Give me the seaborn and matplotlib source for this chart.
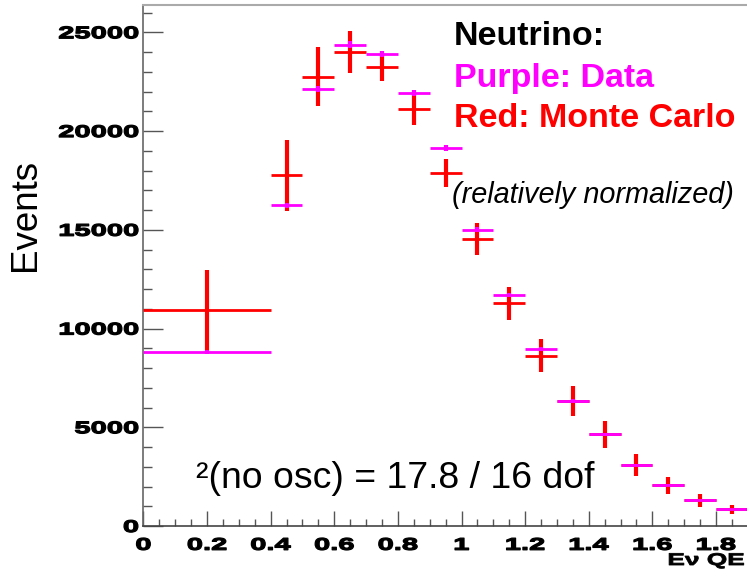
import numpy as np
import matplotlib
matplotlib.use("Agg")
import matplotlib.pyplot as plt
import seaborn as sns
from matplotlib.ticker import MultipleLocator, FixedLocator
from matplotlib.patheffects import AbstractPathEffect
from matplotlib.transforms import Affine2D

# ---------------- data ----------------
bin_centers = [0.2, 0.45, 0.55, 0.65, 0.75, 0.85, 0.95, 1.05, 1.15, 1.25, 1.35, 1.45, 1.55, 1.65, 1.75, 1.85]
bin_halfwidths = [0.2, 0.05, 0.05, 0.05, 0.05, 0.05, 0.05, 0.05, 0.05, 0.05, 0.05, 0.05, 0.05, 0.05, 0.05, 0.05]
mc_values = [10950, 17750, 22750, 24010, 23250, 21110, 17870, 14540, 11280, 8630, 6330, 4645, 3105, 2060, 1300, 846]
mc_errors = [2030, 1800, 1500, 1080, 700, 780, 720, 795, 845, 830, 760, 685, 560, 440, 320, 230]
data_values = [8830, 16245, 22150, 24380, 23880, 21920, 19150, 15010, 11690, 8950, 6330, 4645, 3105, 2060, 1300, 846]
data_errors = [95, 127, 149, 156, 155, 148, 138, 123, 108, 95, 80, 68, 56, 45, 36, 29]
x_tick_values = [0, 0.2, 0.4, 0.6, 0.8, 1.0, 1.2, 1.4, 1.6, 1.8]
x_tick_labels = ["0", "0.2", "0.4", "0.6", "0.8", "1", "1.2", "1.4", "1.6", "1.8"]
y_tick_values = [0, 5000, 10000, 15000, 20000, 25000]
y_tick_labels = ["0", "5000", "10000", "15000", "20000", "25000"]

RED = "#ff0000"
MAGENTA = "#ff00ff"

W, H = 747, 579
sns.set_theme(style="ticks")
plt.rcParams["font.family"] = ["Liberation Sans", "DejaVu Sans"]


class HStretch(AbstractPathEffect):
    """Stretch text glyphs horizontally (ROOT-like wide bold labels)."""
    def __init__(self, sx, anchor="left", stroke=0.0):
        super().__init__()
        self.sx = sx
        self.anchor = anchor
        self.stroke = stroke

    def draw_path(self, renderer, gc, tpath, affine, rgbFace=None):
        ext = tpath.get_extents()
        if self.anchor == "right":
            x0 = ext.x1
        elif self.anchor == "center":
            x0 = 0.5 * (ext.x0 + ext.x1)
        else:
            x0 = ext.x0
        t = Affine2D().translate(-x0, 0).scale(self.sx, 1).translate(x0, 0)
        gc0 = renderer.new_gc()
        gc0.copy_properties(gc)
        if self.stroke > 0:
            gc0.set_linewidth(self.stroke)
            if rgbFace is not None:
                gc0.set_foreground(rgbFace)
        renderer.draw_path(gc0, tpath, t + affine, rgbFace)
        gc0.restore()


fig = plt.figure(figsize=(W / 100, H / 100), dpi=100)
fig.patch.set_facecolor("white")

ax_left, ax_right = 143.4, 747
ax_top, ax_bottom = 5, 526
ax = fig.add_axes([ax_left / W, 1 - ax_bottom / H, (ax_right - ax_left) / W, (ax_bottom - ax_top) / H])
ax.set_facecolor("white")

xc = np.array(bin_centers)
hw = np.array(bin_halfwidths)
mc = np.array(mc_values)
mce = np.array(mc_errors)
dv = np.array(data_values)
de = np.array(data_errors)

# Monte Carlo crosses (red)
ax.hlines(mc, xc - hw, xc + hw, colors=RED, linewidth=2.0, zorder=3)
ax.vlines(xc, mc - mce, mc + mce, colors=RED, linewidth=3.0, zorder=3)
# Data (magenta)
ax.hlines(dv, xc - hw, xc + hw, colors=MAGENTA, linewidth=2.0, zorder=4)
ax.vlines(xc, dv - de, dv + de, colors=MAGENTA, linewidth=3.0, zorder=4)

ax.set_xlim(0, (ax_right - ax_left) / 318.1)
ax.set_ylim(0, (ax_bottom - ax_top) / 98.74 * 5000)

ax.xaxis.set_major_locator(FixedLocator(x_tick_values))
ax.set_xticklabels(x_tick_labels)
ax.xaxis.set_minor_locator(MultipleLocator(0.05))
ax.yaxis.set_major_locator(FixedLocator(y_tick_values))
ax.set_yticklabels(y_tick_labels)
ax.yaxis.set_minor_locator(MultipleLocator(1000))

tick_col = "#555555"
ax.tick_params(axis="y", which="major", direction="in", length=14.4, width=1.0, color=tick_col,
               pad=3.5, labelsize=12.2, labelcolor="black")
ax.tick_params(axis="y", which="minor", direction="in", length=6.5, width=1.0, color=tick_col)
ax.tick_params(axis="x", which="major", direction="in", length=10.8, width=1.0, color=tick_col,
               pad=8.5, labelsize=12.2, labelcolor="black")
ax.tick_params(axis="x", which="minor", direction="in", length=5.0, width=1.0, color=tick_col)

for lab in ax.get_yticklabels():
    lab.set_fontweight("bold")
    lab.set_path_effects([HStretch(1.72, "right", stroke=0.9)])
for lab in ax.get_xticklabels():
    lab.set_fontweight("bold")
    lab.set_path_effects([HStretch(1.72, "center", stroke=0.9)])

ax.spines["right"].set_visible(False)
ax.spines["left"].set_color("#666666")
ax.spines["left"].set_linewidth(1.2)
ax.spines["bottom"].set_color("#444444")
ax.spines["bottom"].set_linewidth(1.2)
ax.spines["top"].set_color("#aaaaaa")
ax.spines["top"].set_linewidth(1.5)
ax.grid(False)


def fpx(x, y):
    return (x / W, 1 - y / H)


fig.text(*fpx(454, 45), "Neutrino:", fontsize=24.5, fontweight="bold", color="black", va="baseline", ha="left")
fig.text(*fpx(454, 87), "Purple: Data", fontsize=24.5, fontweight="bold", color=MAGENTA, va="baseline", ha="left")
fig.text(*fpx(454, 127), "Red: Monte Carlo", fontsize=24.5, fontweight="bold", color=RED, va="baseline", ha="left")
fig.text(*fpx(452, 203), "(relatively normalized)", fontsize=20.8, fontstyle="italic", color="black",
         va="baseline", ha="left")
fig.text(*fpx(196, 488), "\u00b2(no osc) = 17.8 / 16 dof", fontsize=26.9, color="black", va="baseline", ha="left")
fig.text(*fpx(25, 215), "Events", fontsize=26.5, color="black", rotation=90, va="center", ha="center")
t = fig.text(*fpx(668, 565), "E\u03bd QE", fontsize=12.2, fontweight="bold", color="black", va="baseline", ha="left")
t.set_path_effects([HStretch(1.55, "left", stroke=0.6)])

fig.savefig("out.png", dpi=100, facecolor="white")
